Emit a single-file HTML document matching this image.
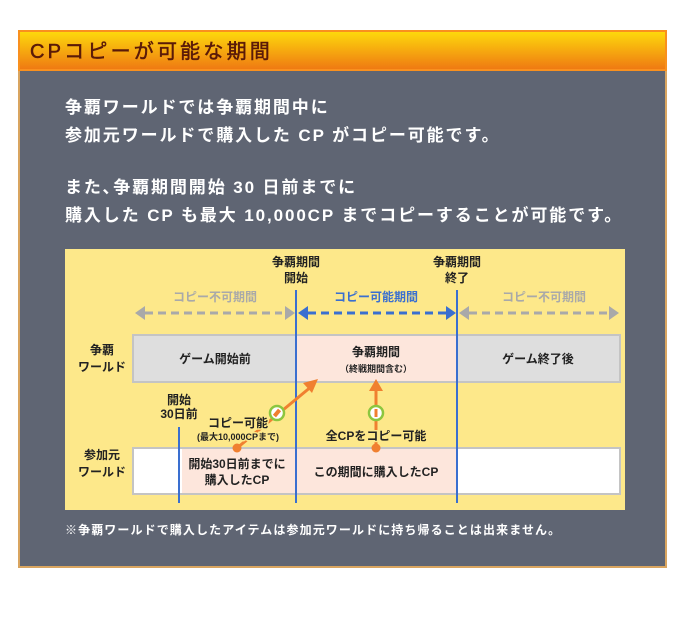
<!DOCTYPE html>
<html><head><meta charset="utf-8"><style>
body{margin:0;background:#fff;width:686px;height:634px;overflow:hidden;font-family:"Liberation Sans","Noto Sans CJK JP",sans-serif}
</style></head><body>
<svg width="686" height="634" xmlns="http://www.w3.org/2000/svg" font-family="Liberation Sans, Noto Sans CJK JP, sans-serif" font-weight="bold">
<defs>
<linearGradient id="hg" x1="0" y1="0" x2="0" y2="1"><stop offset="0" stop-color="#fdd80c"/><stop offset="1" stop-color="#ef7a12"/></linearGradient>
</defs>
<rect x="18" y="30" width="649" height="538" fill="#d9a560"/>
<rect x="20" y="70" width="645" height="496" fill="#5f6573"/>
<rect x="18" y="30" width="649" height="41" fill="#f9901e"/>
<rect x="20" y="32" width="645" height="37" fill="url(#hg)"/>
<text x="30" y="58" font-size="20" fill="#5a1a08" stroke="#5a1a08" stroke-width="0.5" font-weight="normal" letter-spacing="3.2">CPコピーが可能な期間</text>
<g fill="#fff" font-size="17" letter-spacing="1.9">
<text x="65" y="113">争覇ワールドでは争覇期間中に</text>
<text x="65" y="141">参加元ワールドで購入した CP がコピー可能です。</text>
<text x="65" y="193">また､争覇期間開始 30 日前までに</text>
<text x="65" y="221">購入した CP も最大 10,000CP までコピーすることが可能です。</text>
</g>
<rect x="65" y="249" width="560" height="261" fill="#fde88a"/>
<g font-size="12" fill="#222" text-anchor="middle">
<text x="296" y="266">争覇期間</text><text x="296" y="282">開始</text>
<text x="457" y="266">争覇期間</text><text x="457" y="282">終了</text>
</g>
<g font-size="12" text-anchor="middle">
<text x="215" y="301" fill="#a9a9a9">コピー不可期間</text>
<text x="376" y="301" fill="#3a6fd0">コピー可能期間</text>
<text x="544" y="301" fill="#a9a9a9">コピー不可期間</text>
</g>
<g stroke-width="3" stroke-dasharray="8,5">
<line x1="145" y1="313" x2="282" y2="313" stroke="#a9a9a9"/>
<line x1="308" y1="313" x2="446" y2="313" stroke="#3a6fd0"/>
<line x1="469" y1="313" x2="609" y2="313" stroke="#a9a9a9"/>
</g>
<g>
<polygon points="135,313 145,306 145,320" fill="#a9a9a9"/>
<polygon points="295,313 285,306 285,320" fill="#a9a9a9"/>
<polygon points="298,313 308,306 308,320" fill="#3a6fd0"/>
<polygon points="456,313 446,306 446,320" fill="#3a6fd0"/>
<polygon points="459,313 469,306 469,320" fill="#a9a9a9"/>
<polygon points="619,313 609,306 609,320" fill="#a9a9a9"/>
</g>
<rect x="133" y="335" width="487" height="47" fill="#dedede" stroke="#c4c4c4" stroke-width="2"/>
<rect x="297" y="336" width="160" height="45" fill="#fde6dc"/>
<rect x="133" y="448" width="487" height="46" fill="#fff" stroke="#c4c4c4" stroke-width="2"/>
<rect x="182" y="449" width="275" height="44" fill="#fde6dc"/>
<g stroke="#3a6fd0" stroke-width="2">
<line x1="296" y1="290" x2="296" y2="503"/>
<line x1="457" y1="290" x2="457" y2="503"/>
<line x1="179" y1="427" x2="179" y2="503"/>
</g>
<g font-size="12" fill="#222" text-anchor="middle">
<text x="102" y="354">争覇</text><text x="102" y="371">ワールド</text>
<text x="102" y="459">参加元</text><text x="102" y="476">ワールド</text>
<text x="215" y="363">ゲーム開始前</text>
<text x="376" y="356">争覇期間</text>
<text x="376" y="372" font-size="9">（終戦期間含む）</text>
<text x="538" y="363">ゲーム終了後</text>
<text x="179" y="404">開始</text><text x="179" y="418">30日前</text>
<text x="237" y="468">開始30日前までに</text><text x="237" y="484">購入したCP</text>
<text x="376" y="476">この期間に購入したCP</text>
</g>
<g stroke="#f08030" stroke-width="3" fill="none">
<line x1="237" y1="448" x2="312" y2="386"/>
<line x1="376" y1="448" x2="376" y2="390"/>
</g>
<polygon points="318,379 303,383 312,393" fill="#f08030"/>
<polygon points="376,379 369,391 383,391" fill="#f08030"/>
<circle cx="237" cy="448" r="4.5" fill="#f08030"/>
<circle cx="376" cy="448" r="4.5" fill="#f08030"/>
<circle cx="277" cy="413" r="7" fill="#fff" stroke="#8cc63f" stroke-width="2.5"/>
<circle cx="376" cy="413" r="7" fill="#fff" stroke="#8cc63f" stroke-width="2.5"/>
<rect x="275" y="409" width="4" height="8" fill="#f08030" transform="rotate(40 277 413)"/>
<rect x="374.5" y="409" width="3" height="8" fill="#f08030"/>
<g text-anchor="middle" fill="#222" stroke="#fde88a" stroke-width="3" paint-order="stroke">
<text x="238" y="427" font-size="12">コピー可能</text>
<text x="238" y="440" font-size="9">(最大10,000CPまで)</text>
<text x="376" y="440" font-size="12">全CPをコピー可能</text>
</g>
<text x="65" y="534" font-size="12" fill="#fff" letter-spacing="1.1">※争覇ワールドで購入したアイテムは参加元ワールドに持ち帰ることは出来ません。</text>
</svg>
</body></html>
